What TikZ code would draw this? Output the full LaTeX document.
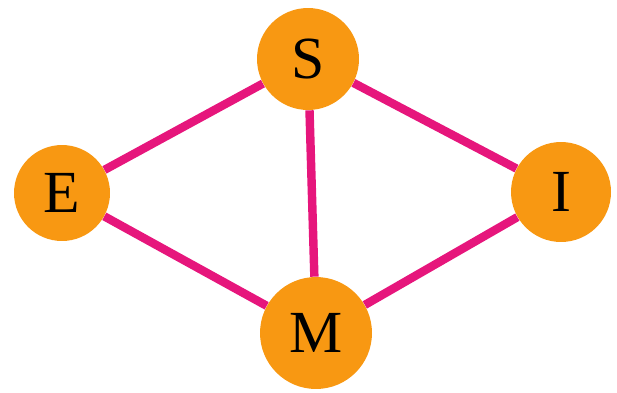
\documentclass[tikz,border=0pt]{standalone}
\usepackage{fontspec}
\setmainfont{Liberation Serif}
\usepackage{xcolor}
\usetikzlibrary{positioning}
\definecolor{nodeorange}{RGB}{248,152,18}
\definecolor{edgepink}{RGB}{230,22,124}
\begin{document}
\begin{tikzpicture}[
    x=0.02cm, y=-0.02cm,
    every node/.style={font=\fontsize{34}{34}\selectfont},
    vert/.style={circle, fill=nodeorange, inner sep=0pt},
    link/.style={edgepink, line width=4.8pt},
  ]
    \useasboundingbox (0,0) rectangle (617,392);
    \node[vert, minimum size=2.04cm] (s) at (308, 59) {S};
    \node[vert, minimum size=1.92cm] (e) at (62, 193) {E};
    \node[vert, minimum size=2.0cm] (i) at (561, 192) {I};
    \node[vert, minimum size=2.24cm] (m) at (316, 333) {M};
    \draw[link] (s) -- (e);
    \draw[link] (s) -- (i);
    \draw[link] (s) -- (m);
    \draw[link] (e) -- (m);
    \draw[link] (i) -- (m);
  \end{tikzpicture}
\end{document}
